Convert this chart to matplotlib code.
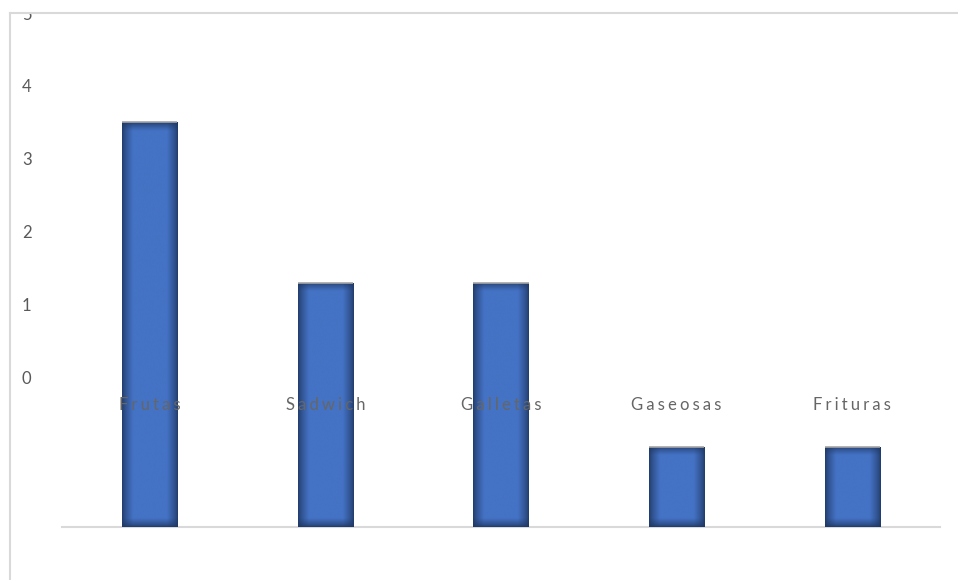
import numpy as np
import matplotlib
matplotlib.use("Agg")
from matplotlib import pyplot as plt
from matplotlib.lines import Line2D
from matplotlib.colors import to_rgb
from matplotlib.transforms import Bbox, TransformedBbox

# datos del grafico
categorias = ["Frutas", "Sadwich", "Galletas", "Gaseosas", "Frituras"]
valores = [3.5, 1.3, 1.3, -0.95, -0.95]
base = -2.05            # linea de base de las barras
marcas = [0, 1, 2, 3, 4, 5]

gris = "#595959"
azul = to_rgb("#4472C4")
azulOscuro = to_rgb("#1F3864")

plt.rcParams['font.family'] = ['Lato', 'DejaVu Sans']

fig = plt.figure(figsize=(9.58, 5.80), dpi=100)
W, H = 958, 580
ax = fig.add_axes([62 / W, (H - 527) / H, 878 / W, 514 / H])
ax.patch.set_visible(False)

x = np.arange(len(categorias))
alturas = [v - base for v in valores]
barras = ax.bar(x, alturas, bottom=base, width=0.315, color=azul,
                linewidth=0, zorder=2)

ax.set_xlim(-0.5, len(categorias) - 0.5)
ax.set_ylim(base, 5)

# sombreado interior de cada barra (mas oscuro en los bordes)
pxX = 878 / len(categorias)
pxY = 514 / (5 - base)
for b in barras:
    x0, y0 = b.get_x(), b.get_y()
    w, h = b.get_width(), b.get_height()
    nx, ny = int(w * pxX), max(int(h * pxY), 2)
    u = (np.arange(nx) + 0.5)
    v = (np.arange(ny) + 0.5)
    dx = np.minimum(u, nx - u)[None, :]
    dy = np.minimum(v, ny - v)[:, None]
    tx = np.clip(dx / 11.0, 0, 1) ** 0.7
    ty = np.clip(dy / 9.0, 0, 1) ** 0.7
    t = tx * ty
    img = np.empty((ny, nx, 3))
    for c in range(3):
        img[:, :, c] = azulOscuro[c] * (1 - t) + azul[c] * t
    im = ax.imshow(img, extent=(x0, x0 + w, y0, y0 + h), aspect='auto',
                   origin='lower', interpolation='bilinear', zorder=3)
    im.set_clip_path(b)
    # borde superior claro
    ax.plot([x0, x0 + w], [y0 + h, y0 + h], color="#A6A6A6", lw=1.2,
            solid_capstyle='butt', zorder=4)

# etiquetas de categoria con letras espaciadas
for i, nombre in enumerate(categorias):
    ax.text(i, -0.38, "\u2009\u200a".join(nombre), ha='center', va='center',
            color="#666666", fontsize=12, zorder=5)

ax.set_xticks([])
ax.set_yticks(marcas)
ax.set_yticklabels([str(m) for m in marcas], color=gris, fontsize=12)
ax.tick_params(axis='y', length=0, pad=22)
for lado in ["top", "right", "left"]:
    ax.spines[lado].set_visible(False)
ax.spines["bottom"].set_color("#D9D9D9")
ax.spines["bottom"].set_linewidth(1.5)

# el texto que sobresale del marco superior queda recortado
recorte = TransformedBbox(Bbox([[0, 0], [1, (H - 14) / H]]), fig.transFigure)
for etiqueta in ax.get_yticklabels():
    etiqueta.set_clip_on(True)
    etiqueta.set_clip_box(recorte)

# marco parcial del area del grafico
fig.add_artist(Line2D([10 / W, 1], [(H - 13) / H] * 2, color="#D9D9D9",
                      lw=1.5, transform=fig.transFigure, zorder=3))
fig.add_artist(Line2D([10 / W] * 2, [0, (H - 13) / H], color="#D9D9D9",
                      lw=1.5, transform=fig.transFigure, zorder=3))

fig.savefig("out.png", dpi=100)
